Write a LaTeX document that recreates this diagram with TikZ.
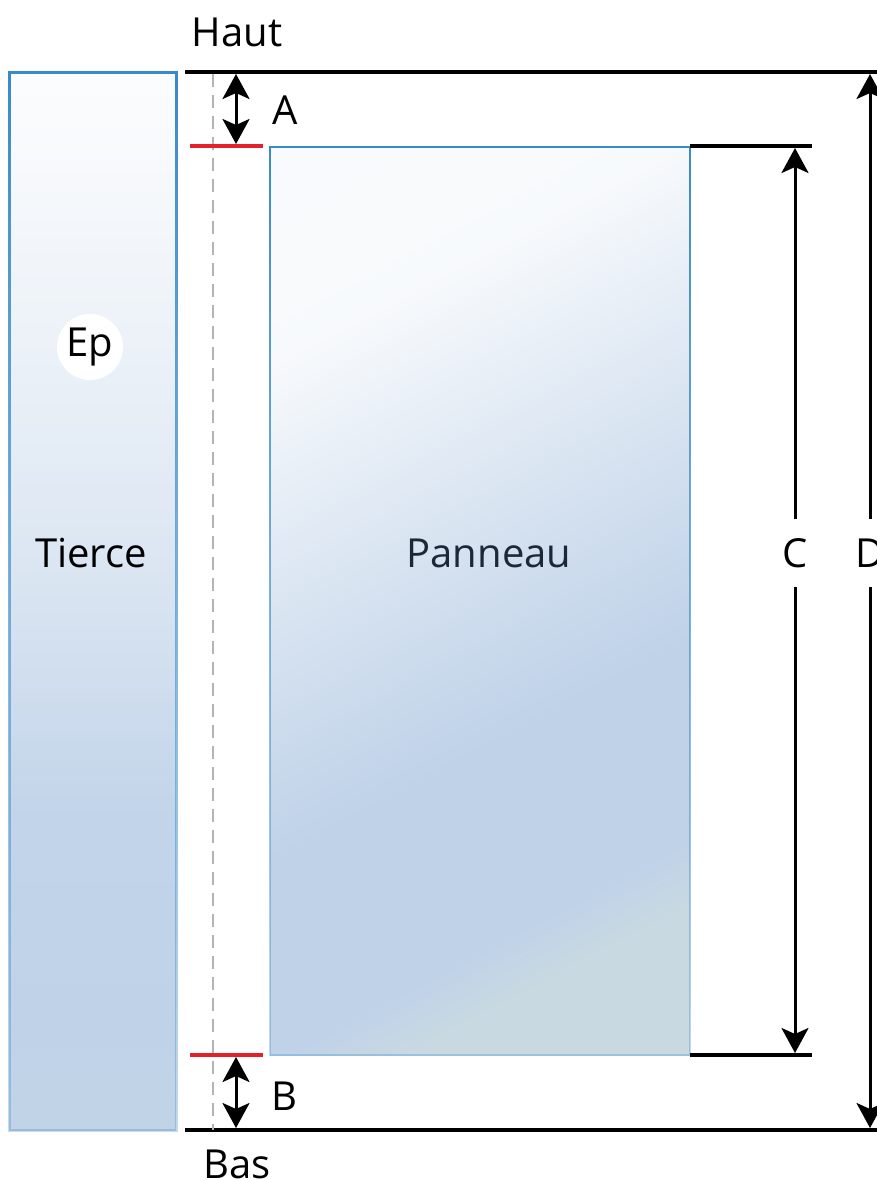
\documentclass[tikz,border=0pt]{standalone}
\usepackage{fontspec}
\setmainfont{Open Sans}
\usetikzlibrary{arrows.meta,fadings}
\definecolor{bord}{HTML}{3A8AC8}
\definecolor{blueA}{HTML}{BFD2E8}
\definecolor{blueB}{HTML}{C9D9E2}
\definecolor{redl}{HTML}{E3202B}
\definecolor{txt}{HTML}{1C2838}
\definecolor{dashg}{HTML}{B4B4B4}
\pgfdeclareverticalshading{tierceshade}{100bp}{color(0bp)=(blueA!75!blueB); color(25bp)=(blueA!75!blueB); color(30bp)=(blueA); color(40bp)=(blueA!95!white); color(52bp)=(blueA!55!white); color(62bp)=(blueA!30!white); color(71bp)=(blueA!12!white); color(75bp)=(blueA!6!white); color(100bp)=(blueA!6!white)}
\pgfdeclareverticalshading{panshade}{100bp}{color(0bp)=(blueB); color(25bp)=(blueB); color(29bp)=(blueA); color(41bp)=(blueA); color(52bp)=(blueA!70!white); color(62bp)=(blueA!40!white); color(71bp)=(blueA!12!white); color(100bp)=(blueA!8!white)}
\tikzfading[name=fadebottom, top color=transparent!0, bottom color=transparent!70]
\begin{document}
\begin{tikzpicture}[x=1pt,y=1pt,
  lbl/.style={font=\fontsize{40}{48}\selectfont, inner sep=0pt},
  boxsh/.style={inner sep=0pt, outer sep=0pt, draw=none},
  bordline/.style={draw=bord, line width=#1, path fading=fadebottom},
  blk/.style={line width=3.4pt, black},
  redline/.style={line width=3.2pt, redl},
  dim/.style={line width=3pt, black, {Stealth[length=25pt,width=27pt,inset=6pt]}-{Stealth[length=25pt,width=27pt,inset=6pt]}},
  gap/.style={fill=white, inner sep=0pt, minimum height=68pt, minimum width=40pt, font=\fontsize{40}{48}\selectfont}]
\useasboundingbox (0,0) rectangle (877,-1180);
% boxes
\node[boxsh, minimum width=167pt, minimum height=1058pt, shading=tierceshade] (tierce) at (92.5,-601) {};
\draw[bordline=3pt] (tierce.north west) rectangle (tierce.south east);
\node[boxsh, minimum width=420pt, minimum height=908pt, shading=panshade, shading angle=28] (panneau) at (480,-601) {};
\draw[bordline=2.4pt] (panneau.north west) rectangle (panneau.south east);
% texts in boxes
\node[lbl] (tiercelbl) at (91,-553) {Tierce};
\node[circle, fill=white, minimum size=66pt, inner sep=0pt] (epc) at (90,-347) {};
\node[lbl] (ep) at (epc) {Ep};
\node[lbl, text=txt] (panlbl) at (489,-553) {Panneau};
% reference lines
\coordinate (tl) at (185,-72);
\coordinate (tr) at (877,-72);
\coordinate (bl) at (185,-1130);
\coordinate (br) at (877,-1130);
\draw[blk] (tl) -- (tr);
\draw[blk] (bl) -- (br);
\coordinate (dtop) at (213,-74);
\coordinate (dbot) at (213,-1130);
\draw[dashg, line width=2pt, dash pattern=on 13pt off 8pt] (dtop) -- (dbot);
\coordinate (ra1) at (190,-146);
\coordinate (ra2) at (263,-146);
\coordinate (rb1) at (190,-1055);
\coordinate (rb2) at (263,-1055);
\draw[redline] (ra1) -- (ra2);
\draw[redline] (rb1) -- (rb2);
\coordinate (ca1) at (690,-146);
\coordinate (ca2) at (812,-146);
\coordinate (cb1) at (690,-1055);
\coordinate (cb2) at (812,-1055);
\draw[blk] (ca1) -- (ca2);
\draw[blk] (cb1) -- (cb2);
% dimension arrows
\coordinate (a1) at (236,-74);
\coordinate (a2) at (236,-144);
\draw[dim] (a1) -- (a2);
\node[lbl] (alab) at (285,-110) {A};
\coordinate (b1) at (236,-1057);
\coordinate (b2) at (236,-1128);
\draw[dim] (b1) -- (b2);
\node[lbl] (blab) at (284,-1096) {B};
\coordinate (c1) at (795,-148);
\coordinate (c2) at (795,-1053);
\draw[dim] (c1) -- node[gap, pos=0.4476] (clab) {C} (c2);
\coordinate (d1) at (870,-74);
\coordinate (d2) at (870,-1128);
\draw[dim] (d1) -- node[gap, pos=0.4545] (dlab) {D} (d2);
\node[lbl] (haut) at (237,-32) {Haut};
\node[lbl] (bas) at (237,-1164) {Bas};
\end{tikzpicture}
\end{document}
